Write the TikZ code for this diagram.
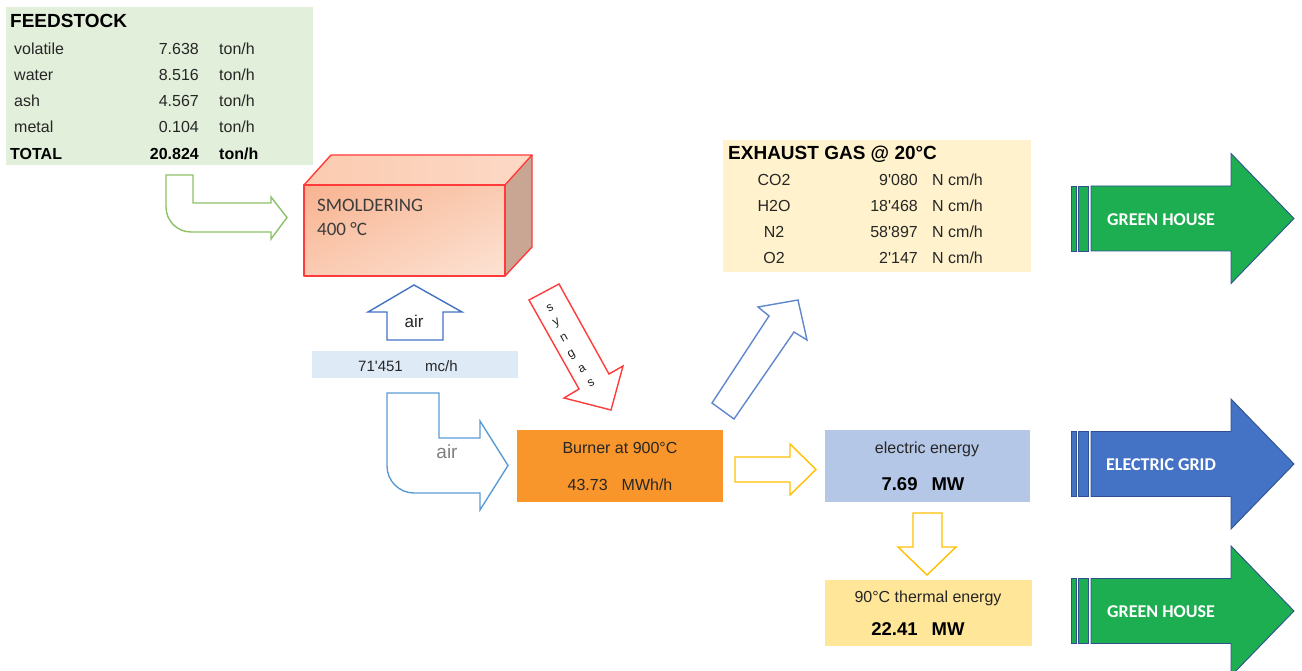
\documentclass[tikz,border=0pt]{standalone}
\usepackage{fontspec}
\usetikzlibrary{shadings}
\setmainfont{Liberation Sans}
\newfontfamily\calibri{Carlito}
\newfontfamily\arialq{Liberation Sans}
\newcommand{\sq}{{\arialq '}}
\definecolor{fsbg}{HTML}{E2EFDA}
\definecolor{exbg}{HTML}{FFF2CC}
\definecolor{airbg}{HTML}{DEEBF7}
\definecolor{burnbg}{HTML}{F8962B}
\definecolor{elbg}{HTML}{B4C7E7}
\definecolor{thbg}{HTML}{FFE699}
\definecolor{gline}{HTML}{8CC168}
\definecolor{bline}{HTML}{4472C4}
\definecolor{lbline}{HTML}{5B9BD5}
\definecolor{yline}{HTML}{FFC000}
\definecolor{rline}{HTML}{FF3B3B}
\definecolor{ghfill}{RGB}{30,174,82}
\definecolor{egfill}{HTML}{4472C4}
\definecolor{arline}{HTML}{2F528F}
\definecolor{txt}{HTML}{262626}
\definecolor{smfront}{HTML}{F8B390}
\definecolor{smfront2}{HTML}{FDE3D4}
\definecolor{smmid}{HTML}{FACBB2}
\definecolor{smtop}{HTML}{FBCBB0}
\definecolor{smtop2}{HTML}{FCD9C6}
\definecolor{smside}{HTML}{C9A693}
\tikzset{
  t16/.style={font=\fontsize{16}{18}\selectfont, text=txt, inner sep=0pt},
  t15/.style={font=\fontsize{15}{18}\selectfont, text=txt, inner sep=0pt},
  b16/.style={font=\bfseries\fontsize{16}{18}\selectfont, text=black, inner sep=0pt},
  b19/.style={font=\bfseries\fontsize{19}{22}\selectfont, text=black, inner sep=0pt},
  c19/.style={font=\calibri\fontsize{19}{22}\selectfont, text=txt!90, inner sep=0pt},
  bigtxt/.style={font=\calibri\bfseries\fontsize{18}{20}\selectfont, text=white, inner sep=0pt},
  blockarrow/.style={line width=1.4pt, fill=white, line join=miter},
  syl/.style={font=\fontsize{12.5}{14}\selectfont, text=txt, inner sep=0pt, rotate=29},
}
\begin{document}
\begin{tikzpicture}[x=1pt,y=-1pt]
\useasboundingbox (0,0) rectangle (1302,671);
% ---------- FEEDSTOCK ----------
\fill[fsbg] (6,7) rectangle (313,165);
\node[b19, anchor=base west] (fst) at (10,28) {FEEDSTOCK};
\node[t16, anchor=base west] (fl1) at (14,55) {volatile};
\node[t16, anchor=base east] (fv1) at (199,55) {7.638};
\node[t16, anchor=base west] (fu1) at (219,55) {ton/h};
\node[t16, anchor=base west] (fl2) at (14,81) {water};
\node[t16, anchor=base east] (fv2) at (199,81) {8.516};
\node[t16, anchor=base west] (fu2) at (219,81) {ton/h};
\node[t16, anchor=base west] (fl3) at (14,107) {ash};
\node[t16, anchor=base east] (fv3) at (199,107) {4.567};
\node[t16, anchor=base west] (fu3) at (219,107) {ton/h};
\node[t16, anchor=base west] (fl4) at (14,133) {metal};
\node[t16, anchor=base east] (fv4) at (199,133) {0.104};
\node[t16, anchor=base west] (fu4) at (219,133) {ton/h};
\node[b16, anchor=base west] (fl5) at (10,160) {TOTAL};
\node[b16, anchor=base east] (fv5) at (199,160) {20.824};
\node[b16, anchor=base west] (fu5) at (219,160) {ton/h};
% green bent arrow
\draw[blockarrow, draw=gline] (166,175) -- (193,175) -- (193,203) -- (271,203) -- (271,197) -- (287,217.5) -- (271,239) -- (271,232) -- (191,232) .. controls (177.2,232) and (166,220.8) .. (166,207) -- cycle;
% ---------- SMOLDERING ----------
\shade[upper left=smfront, upper right=smmid, lower left=smmid, lower right=smfront2] (304,185) rectangle (505,276);
\shade[left color=smtop, right color=smtop2] (304,185) -- (331,155) -- (532,155) -- (505,185) -- cycle;
\fill[smside] (505,185) -- (532,155) -- (532,247) -- (505,276) -- cycle;
\draw[rline, line width=1.4pt, line join=round] (304,185) rectangle (505,276);
\draw[rline, line width=1.4pt, line join=round] (304,185) -- (331,155) -- (532,155) -- (505,185);
\draw[rline, line width=1.4pt, line join=round] (532,155) -- (532,247) -- (505,276);
\node[c19, anchor=base west] (sm1) at (317,212) {SMOLDERING};
\node[c19, anchor=base west] (sm2) at (317,236) {400 °C};
% ---------- AIR ----------
\draw[blockarrow, draw=bline] (414,285) -- (462,312) -- (443,312) -- (443,340) -- (387,340) -- (387,312) -- (368,312) -- cycle;
\node[font=\fontsize{17}{20}\selectfont, text=txt, inner sep=0pt, anchor=base] (air1) at (414,327) {air};
\fill[airbg] (312,351) rectangle (518,378);
\node[t15, anchor=base east] (airv) at (403,371) {71\sq451};
\node[t15, anchor=base west] (airu) at (425,371) {mc/h};
\draw[blockarrow, draw=lbline] (387,393) -- (439,393) -- (439,438) -- (480,438) -- (480,421) -- (508,465.5) -- (480,510) -- (480,493) -- (414,493) .. controls (399.1,493) and (387,480.9) .. (387,466) -- cycle;
\node[font=\fontsize{19}{22}\selectfont, text=black!50, inner sep=0pt, anchor=base] (air2) at (447,458) {air};
% ---------- SYNGAS ----------
\draw[blockarrow, draw=rline] (529,300) -- (559,284) -- (609,374) -- (623,366) -- (611,410) -- (564,398) -- (579,389) -- cycle;
\node[syl] (sg1) at (550,308) {s};
\node[syl] (sg2) at (557,323) {y};
\node[syl] (sg3) at (564,338) {n};
\node[syl] (sg4) at (572,355) {g};
\node[syl] (sg5) at (582,369) {a};
\node[syl] (sg6) at (591,383) {s};
% ---------- BURNER ----------
\fill[burnbg] (517,430) rectangle (723,502);
\node[t16, anchor=base] (bu1) at (620,453) {Burner at 900°C};
\node[t16, anchor=base] (bu2) at (620,490) {43.73\hspace{14pt}MWh/h};
% burner -> electric
\draw[blockarrow, draw=yline] (735,457) -- (790,457) -- (790,444) -- (816,469.5) -- (790,495) -- (790,482) -- (735,482) -- cycle;
% ---------- EXHAUST ARROW ----------
\draw[blockarrow, draw=bline!85] (712,403) -- (769,316) -- (758,307) -- (798,300) -- (807,340) -- (794,332) -- (734,419) -- cycle;
% ---------- EXHAUST GAS ----------
\fill[exbg] (723,140) rectangle (1031,272);
\node[b19, anchor=base west] (ext) at (728,160) {EXHAUST GAS @ 20°C};
\node[t16, anchor=base] (el1) at (774,186) {CO2};
\node[t16, anchor=base east] (ev1) at (918,186) {9\sq080};
\node[t16, anchor=base west] (eu1) at (932,186) {N cm/h};
\node[t16, anchor=base] (el2) at (774,212) {H2O};
\node[t16, anchor=base east] (ev2) at (918,212) {18\sq468};
\node[t16, anchor=base west] (eu2) at (932,212) {N cm/h};
\node[t16, anchor=base] (el3) at (774,238) {N2};
\node[t16, anchor=base east] (ev3) at (918,238) {58\sq897};
\node[t16, anchor=base west] (eu3) at (932,238) {N cm/h};
\node[t16, anchor=base] (el4) at (774,264) {O2};
\node[t16, anchor=base east] (ev4) at (918,264) {2\sq147};
\node[t16, anchor=base west] (eu4) at (932,264) {N cm/h};
% ---------- ELECTRIC ENERGY ----------
\fill[elbg] (825,430) rectangle (1030,502);
\node[t16, anchor=base] (ee1) at (927,453) {electric energy};
\node[font=\bfseries\fontsize{18.5}{22}\selectfont, text=black, inner sep=0pt, anchor=base] (ee2) at (923,490) {7.69\hspace{14pt}MW};
% electric -> thermal
\draw[blockarrow, draw=yline] (913,513) -- (942,513) -- (942,547) -- (956,547) -- (927,575) -- (898,547) -- (913,547) -- cycle;
% ---------- THERMAL ENERGY ----------
\fill[thbg] (825,580) rectangle (1032,646);
\node[t16, anchor=base] (th1) at (928,602) {90°C thermal energy};
\node[font=\bfseries\fontsize{18.5}{22}\selectfont, text=black, inner sep=0pt, anchor=base] (th2) at (918,635) {22.41\hspace{14pt}MW};
% ---------- BIG ARROWS ----------
\foreach \yc/\fc/\lab/\nm in {218.5/ghfill/GREEN HOUSE/gh1, 464/egfill/ELECTRIC GRID/eg, 611/ghfill/GREEN HOUSE/gh2}{
  \draw[arline, line width=0.9pt, fill=\fc] (1071,\yc-32.5) rectangle (1076,\yc+32.5);
  \draw[arline, line width=0.9pt, fill=\fc] (1078.5,\yc-32.5) rectangle (1088.5,\yc+32.5);
  \draw[arline, line width=0.9pt, fill=\fc, line join=miter] (1091,\yc-32.5) -- (1231,\yc-32.5) -- (1231,\yc-65) -- (1294,\yc) -- (1231,\yc+65) -- (1231,\yc+32.5) -- (1091,\yc+32.5) -- cycle;
  \node[bigtxt] (\nm) at (1161,\yc+1) {\lab};
}
\end{tikzpicture}
\end{document}
